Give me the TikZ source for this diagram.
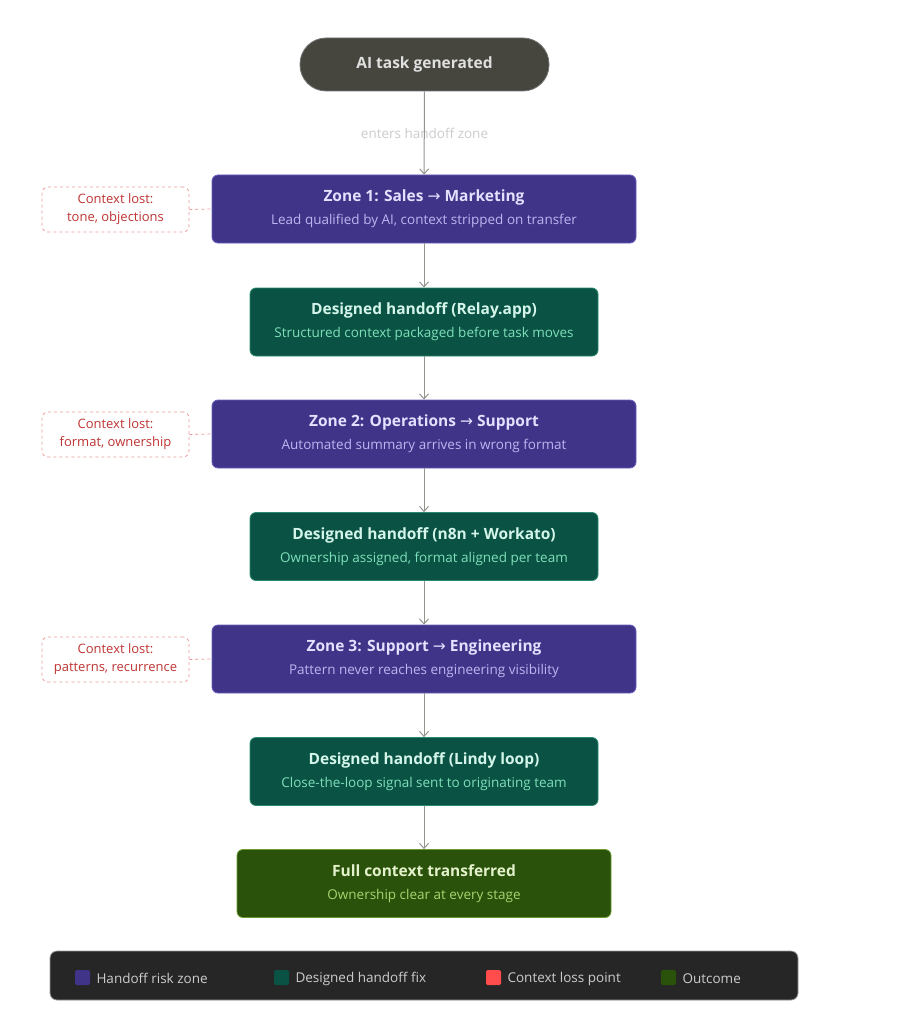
\documentclass[tikz,border=0pt]{standalone}
\usepackage{fontspec}
\setmainfont{Open Sans}
\newfontfamily\symf{DejaVu Sans}
\newcommand{\rarr}{{\symf\mdseries→}}
\usetikzlibrary{arrows.meta}
\definecolor{zonef}{HTML}{3F3487}\definecolor{zoned}{HTML}{6A5FC0}
\definecolor{zonet}{HTML}{E4E0FF}\definecolor{zones}{HTML}{BDB5F2}
\definecolor{fixf}{HTML}{0A5244}\definecolor{fixd}{HTML}{2A8A70}
\definecolor{fixt}{HTML}{D4F6EA}\definecolor{fixs}{HTML}{7EDFB8}
\definecolor{outf}{HTML}{2A520A}\definecolor{outd}{HTML}{6A9A30}
\definecolor{outt}{HTML}{E4F2CC}\definecolor{outs}{HTML}{A6D470}
\definecolor{lossd}{HTML}{EC9A9A}\definecolor{losst}{HTML}{C03434}
\definecolor{arr}{HTML}{959590}
\definecolor{startf}{HTML}{46463F}
\begin{document}
\begin{tikzpicture}[x=1pt,y=-1pt,font=\fontsize{13.5}{16}\selectfont,
 box/.style={rounded corners=6pt,line width=0.8pt,align=center,inner sep=0pt},
 zone/.style={box,fill=zonef,draw=zoned,minimum width=424pt,minimum height=68pt},
 fix/.style={box,fill=fixf,draw=fixd,minimum width=348pt,minimum height=68pt},
 outc/.style={box,fill=outf,draw=outd,minimum width=374pt,minimum height=68pt},
 loss/.style={box,draw=lossd,dashed,minimum width=147pt,minimum height=45pt,text=losst,font=\fontsize{13}{18}\selectfont},
 ar/.style={draw=arr,line width=1pt,-{Straight Barb[length=5pt,width=9pt]}},
 leg/.style={text=white!80!black,anchor=west,font=\fontsize{13.5}{16}\selectfont}]
\useasboundingbox (0,0) rectangle (899,1024);
\fill[white] (0,0) rectangle (899,1024);
\node[box,rounded corners=26pt,fill=startf,draw=black!55,minimum width=249pt,minimum height=53pt,text=white!88!black,font=\fontsize{15.5}{18}\bfseries\selectfont] (start) at (424.5,64.5) {AI task generated};
\node[text=black!20] (lbl) at (424.5,133) {enters handoff zone};
\newcommand{\two}[5]{\node[#1] (#2) at (424,#3) {{\fontsize{15.5}{18}\bfseries\selectfont\color{#1t}#4}\\[7pt]{\fontsize{13.5}{16}\selectfont\color{#1s}#5}};}
\two{zone}{z1}{209}{Zone 1: Sales \rarr\ Marketing}{Lead qualified by AI, context stripped on transfer}
\two{fix}{h1}{322}{Designed handoff (Relay.app)}{Structured context packaged before task moves}
\two{zone}{z2}{434}{Zone 2: Operations \rarr\ Support}{Automated summary arrives in wrong format}
\two{fix}{h2}{546.5}{Designed handoff (n8n + Workato)}{Ownership assigned, format aligned per team}
\two{zone}{z3}{659}{Zone 3: Support \rarr\ Engineering}{Pattern never reaches engineering visibility}
\two{fix}{h3}{771.5}{Designed handoff (Lindy loop)}{Close-the-loop signal sent to originating team}
\node[outc] (out) at (424,883.5) {{\fontsize{15.5}{18}\bfseries\selectfont\color{outt}Full context transferred}\\[7pt]{\fontsize{13.5}{16}\selectfont\color{outs}Ownership clear at every stage}};
\node[loss] (l1) at (115.5,209.5) {Context lost:\\tone, objections};
\node[loss] (l2) at (115.5,434.5) {Context lost:\\format, ownership};
\node[loss] (l3) at (115.5,659.5) {Context lost:\\patterns, recurrence};
\foreach \a/\b in {start/z1,z1/h1,h1/z2,z2/h2,h2/z3,z3/h3,h3/out} \draw[ar] (\a) -- (\b);
\foreach \l/\z in {l1/z1,l2/z2,l3/z3} \draw[lossd,dashed,line width=0.8pt] (\l.east) -- (\z.west);
\node[box,rounded corners=7pt,fill=black!85,draw=black!40,minimum width=748pt,minimum height=49pt] (legend) at (424,975.5) {};
\foreach \c/\x/\t/\n in {zonef/75/Handoff risk zone/a,fixf/274/Designed handoff fix/b,red!70!white/486/Context loss point/c,outf/661/Outcome/d}{
 \fill[\c,rounded corners=1.5pt] (\x,970) rectangle ++(15,15);
 \node[leg] (leg\n) at (\x+18,978.5) {\t};}
\end{tikzpicture}
\end{document}
